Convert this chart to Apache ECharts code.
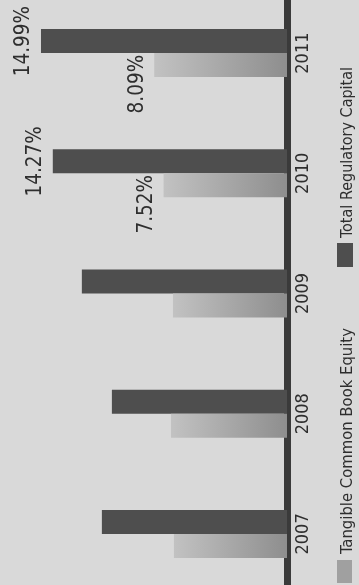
<!DOCTYPE html>
<html><head><meta charset="utf-8">
<script src="https://cdn.jsdelivr.net/npm/echarts@6/dist/echarts.min.js"></script>
<style>html,body{margin:0;padding:0;background:#d9d9d9;overflow:hidden;width:359px;height:585px}#c{position:absolute;left:0;top:-7px;width:359px;height:601px}</style>
</head><body><div id="c"></div>
<script>
const years = ['2007','2008','2009','2010','2011'];
const tangibleCommonBookEquity = [6.89, 7.07, 6.95, 7.52, 8.09];
const totalRegulatoryCapital = [11.28, 10.67, 12.5, 14.27, 14.99];
const labelledYears = ['2010','2011'];
const legendNames = ['Tangible Common Book Equity','Total Regulatory Capital'];

const FONT = '"Liberation Sans Narrow","DejaVu Sans Condensed",sans-serif';
const lightGrad = new echarts.graphic.LinearGradient(1,0,0,0,[{offset:0,color:'#8e8e8e'},{offset:1,color:'#c2c2c2'}]);
const DY = 7; // container offset

function mk(vals){
  return vals.map((v,i)=>({value:v, label:{show:labelledYears.includes(years[i])}}));
}
const chart = echarts.init(document.getElementById('c'), null, {renderer:'canvas'});
chart.setOption({
  backgroundColor:'#d9d9d9',
  animation:false,
  grid:{left:8, right:72, top:0, bottom:0, containLabel:false},
  xAxis:{type:'value', inverse:true, min:0, max:17, show:false},
  yAxis:{type:'category', data:years, position:'right',
    axisLine:{show:true, lineStyle:{color:'#3a3a3a', width:7}},
    axisTick:{show:false},
    axisLabel:{rotate:90, margin:16, fontFamily:FONT, fontSize:18, color:'#2e2e2e', align:'center', verticalAlign:'middle'},
    splitLine:{show:false}},
  series:[
    {name:legendNames[1], type:'bar', data:mk(totalRegulatoryCapital), barWidth:24, barGap:'0%',
     itemStyle:{color:'#4e4e4e'},
     label:{position:'left', distance:17, rotate:90, align:'center', verticalAlign:'middle',
       fontFamily:FONT, fontSize:20.5, color:'#2e2e2e', formatter:p=>p.value.toFixed(2)+'%'}},
    {name:legendNames[0], type:'bar', data:mk(tangibleCommonBookEquity), barWidth:24, barGap:'0%',
     itemStyle:{color:lightGrad},
     label:{position:'left', distance:17, rotate:90, align:'center', verticalAlign:'middle', offset:[-19,0],
       fontFamily:FONT, fontSize:20.5, color:'#2e2e2e', formatter:p=>p.value.toFixed(2)+'%'}}
  ],
  graphic:[
    {type:'rect', shape:{x:337,y:560+DY,width:15,height:23}, style:{fill:'#a0a0a0'}},
    {type:'text', x:348, y:554+DY, rotation:Math.PI/2, style:{text:legendNames[0], font:'16.5px '+FONT, fill:'#2e2e2e', textAlign:'left', textVerticalAlign:'middle'}},
    {type:'rect', shape:{x:337,y:243+DY,width:16,height:24}, style:{fill:'#4e4e4e'}},
    {type:'text', x:348, y:238+DY, rotation:Math.PI/2, style:{text:legendNames[1], font:'16px '+FONT, fill:'#2e2e2e', textAlign:'left', textVerticalAlign:'middle'}}
  ]
});
</script></body></html>
